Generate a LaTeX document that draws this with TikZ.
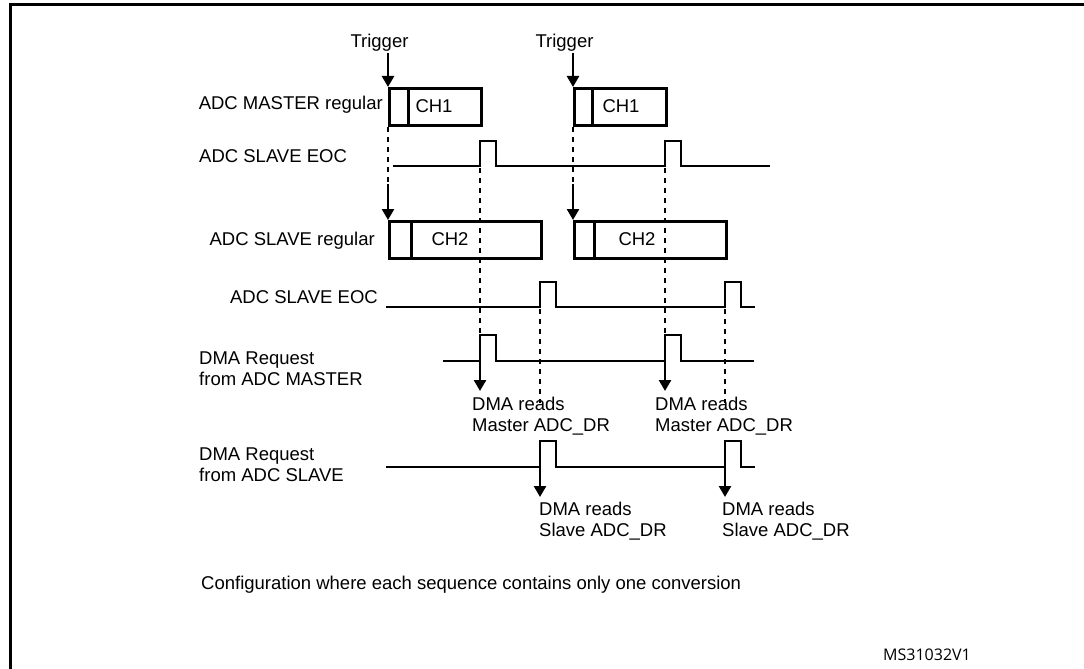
\documentclass[tikz,border=0pt]{standalone}
\usepackage{fontspec}
\setmainfont{Liberation Sans}
\newfontfamily\idfont{Open Sans}
\usetikzlibrary{arrows.meta}
\begin{document}
\begin{tikzpicture}[x=1pt,y=-1pt,
  sig/.style={line width=2pt, line join=miter},
  boxst/.style={draw, line width=3pt, inner sep=0pt, anchor=north west},
  dsh/.style={line width=2pt, dash pattern=on 5pt off 5pt},
  arr/.style={line width=2.5pt, -{Triangle[length=11pt,width=12pt]}},
  lbl/.style={font=\fontsize{18.5}{21}\selectfont, inner sep=0pt, align=left},
]
\useasboundingbox (0,0) rectangle (1084,669);
\clip (0,0) rectangle (1084,669);
% frame
\draw[line width=3pt] (1100,5) -- (10,5) -- (10,690);

% labels
\node[lbl, anchor=base east] (lm) at (383,109) {ADC MASTER regular};
\node[lbl, anchor=base west] (le1) at (199,162) {ADC SLAVE EOC};
\node[lbl, anchor=base east] (ls) at (375,245) {ADC SLAVE regular};
\node[lbl, anchor=base east] (le2) at (378,303) {ADC SLAVE EOC};
\node[lbl, anchor=north west] (ldm) at (199,352) {DMA Request\\from ADC MASTER};
\node[lbl, anchor=north west] (lds) at (199,448) {DMA Request\\from ADC SLAVE};
\node[lbl, anchor=base west] (cfg) at (201,589) {Configuration where each sequence contains only one conversion};
\node[font=\idfont\fontsize{16}{18}\selectfont, inner sep=0pt, anchor=base east] (id) at (971,660) {MS31032V1};

% triggers
\node[lbl, anchor=base] (tr1) at (379.5,48) {Trigger};
\node[lbl, anchor=base] (tr2) at (564.5,48) {Trigger};

% master boxes
\node[boxst, minimum width=92pt, minimum height=37pt] (m1) at (388,87) {};
\node[boxst, minimum width=92pt, minimum height=37pt] (m2) at (573,87) {};
\draw[line width=3pt] (408,87) -- (408,124);
\draw[line width=3pt] (592,87) -- (592,124);
\node[lbl, anchor=base] (m1t) at (434,112) {CH1};
\node[lbl, anchor=base] (m2t) at (621,112) {CH1};

% slave boxes
\node[boxst, minimum width=152pt, minimum height=37pt] (s1) at (388,220) {};
\node[boxst, minimum width=152pt, minimum height=37pt] (s2) at (573,220) {};
\draw[line width=3pt] (411,220) -- (411,257);
\draw[line width=3pt] (594,220) -- (594,257);
\node[lbl, anchor=base] (s1t) at (450,245) {CH2};
\node[lbl, anchor=base] (s2t) at (637,245) {CH2};

% trigger arrows
\coordinate (a1) at (388,53);
\coordinate (a2) at (573,53);
\draw[arr] (a1) -- (m1.north west);
\draw[arr] (a2) -- (m2.north west);

% dashed from master start to slave start
\coordinate (b1) at (388,184);
\coordinate (b2) at (573,184);
\draw[dsh] (m1.south west) -- (b1);
\draw[dsh] (m2.south west) -- (b2);
\draw[arr] (b1) -- (s1.north west);
\draw[arr] (b2) -- (s2.north west);

% waveforms
\draw[sig] (393,166) -- (480,166) -- (480,141) -- (496,141) -- (496,166) -- (665,166) -- (665,141) -- (681,141) -- (681,166) -- (770,166);
\draw[sig] (386,307) -- (540,307) -- (540,282) -- (556,282) -- (556,307) -- (725,307) -- (725,282) -- (741,282) -- (741,307) -- (755,307);
\draw[sig] (443,361) -- (480,361) -- (480,335) -- (496,335) -- (496,361) -- (665,361) -- (665,335) -- (681,335) -- (681,361) -- (754,361);
\draw[sig] (386,467) -- (540,467) -- (540,441) -- (556,441) -- (556,467) -- (725,467) -- (725,441) -- (741,441) -- (741,467) -- (755,467);

% dashed verticals
\draw[dsh] (480,168) -- (480,335);
\draw[dsh] (665,168) -- (665,335);
\draw[dsh] (540,309) -- (540,403);
\draw[dsh] (725,309) -- (725,403);

% DMA arrows and texts
\coordinate (d1) at (480,361);
\coordinate (d2) at (665,361);
\coordinate (d3) at (540,467);
\coordinate (d4) at (725,467);
\node[lbl, anchor=north west] (r1) at (472,397) {DMA reads\\Master ADC\_DR};
\node[lbl, anchor=north west] (r2) at (655,397) {DMA reads\\Master ADC\_DR};
\node[lbl, anchor=north west] (r3) at (539,502) {DMA reads\\Slave ADC\_DR};
\node[lbl, anchor=north west] (r4) at (722,502) {DMA reads\\Slave ADC\_DR};
\draw[arr] (d1) -- (480,391);
\draw[arr] (d2) -- (665,391);
\draw[arr] (d3) -- (540,497);
\draw[arr] (d4) -- (725,497);
\end{tikzpicture}
\end{document}
